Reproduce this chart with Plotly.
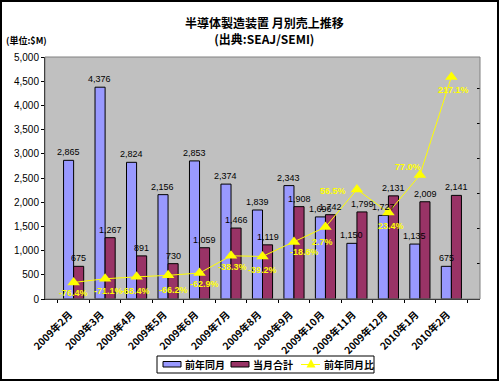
import plotly.graph_objects as go

categories = ["2009年2月", "2009年3月", "2009年4月", "2009年5月", "2009年6月", "2009年7月",
              "2009年8月", "2009年9月", "2009年10月", "2009年11月", "2009年12月",
              "2010年1月", "2010年2月"]
prev_year = [2865, 4376, 2824, 2156, 2853, 2374, 1839, 2343, 1696, 1150, 1727, 1135, 675]
this_month = [675, 1267, 891, 730, 1059, 1466, 1119, 1908, 1742, 1799, 2131, 2009, 2141]
yoy_pct = [-76.4, -71.1, -68.4, -66.2, -62.9, -38.3, -39.2, -18.6, 2.7, 56.5, 23.4, 77.0, 217.1]
y_ticks = [0, 500, 1000, 1500, 2000, 2500, 3000, 3500, 4000, 4500, 5000]
series_names = ["前年同月", "当月合計", "前年同月比"]

# label offsets (pixels) for the ratio labels: (dx, dy) with dy positive = down
label_offsets = [(0, 11), (3, 12), (-1, 14), (5, 15), (5, 11), (1, 11), (0, 14),
                 (11, 10), (-3, 15), (-24, 2), (3, 13), (-12, -8), (2, 13)]

W, H = 500, 382
ML, MR, MT, MB = 45, 20, 57, 83
PW, PH = W - ML - MR, H - MT - MB
BARGAP = 0.36
BAR_PX = PW / len(categories) * (1 - BARGAP) / 2

BLUE, MAROON, YELLOW = "#9999FF", "#993366", "#FFFF00"
FONT = "Liberation Sans, Arial, Noto Sans CJK JP, sans-serif"
CJK = "Noto Sans CJK JP, Liberation Sans, sans-serif"

fig = go.Figure()
fig.add_trace(go.Bar(
    x=categories, y=prev_year, name=series_names[0],
    marker=dict(color=BLUE, line=dict(color="#000000", width=1)),
))
fig.add_trace(go.Bar(
    x=categories, y=this_month, name=series_names[1],
    marker=dict(color=MAROON, line=dict(color="#000000", width=1)),
))
fig.add_trace(go.Scatter(
    x=categories, y=yoy_pct, name=series_names[2], yaxis="y2",
    mode="lines+markers",
    line=dict(color=YELLOW, width=1),
    marker=dict(symbol="triangle-up", size=11, color=YELLOW),
    cliponaxis=False,
))

# bar value labels (drawn above every mark)
for vals, sign in ((prev_year, -1), (this_month, 1)):
    for c, v in zip(categories, vals):
        fig.add_annotation(
            x=c, y=v, xref="x", yref="y", text=f"{v:,}", showarrow=False,
            xanchor="center", yanchor="bottom", xshift=sign * BAR_PX / 2, yshift=1,
            font=dict(size=9, color="#000000", family=FONT),
        )

for c, v, (dx, dy) in zip(categories, yoy_pct, label_offsets):
    fig.add_annotation(
        x=c, y=v, xref="x", yref="y2", text=f"{v:.1f}%", showarrow=False,
        xanchor="center", yanchor="middle",
        xshift=dx, yshift=-dy, font=dict(size=9, color=YELLOW, family=FONT, weight="bold"),
    )

def px_x(p):
    return (p - ML) / PW

def px_y(p):
    return (H - MB - p) / PH

# outer border of the picture
fig.add_shape(type="rect", xref="paper", yref="paper",
              x0=px_x(1), x1=px_x(498), y0=px_y(380), y1=px_y(1),
              line=dict(color="#000000", width=2), layer="above")
# plot area border
fig.add_shape(type="rect", xref="paper", yref="paper", x0=0, x1=1, y0=0, y1=1,
              line=dict(color="#808080", width=1), layer="above")

fig.add_annotation(xref="paper", yref="paper", x=px_x(264), y=px_y(30),
                   xanchor="center", yanchor="middle", align="center",
                   text="<b>半導体製造装置 月別売上推移<br>(出典:SEAJ/SEMI)</b>", showarrow=False,
                   font=dict(size=12, family=CJK, color="#000000"))
fig.add_annotation(xref="paper", yref="paper", x=px_x(4), y=px_y(40.5),
                   xanchor="left", yanchor="middle",
                   text="(単位:$M)", showarrow=False,
                   font=dict(size=9, family=CJK, color="#000000", weight="bold"))

# legend box
fig.add_shape(type="rect", xref="paper", yref="paper",
              x0=px_x(157), x1=px_x(374), y0=px_y(373), y1=px_y(356),
              line=dict(color="#000000", width=1), fillcolor="#FFFFFF", layer="above")
for (x0, x1), col in (((163, 181), BLUE), ((231, 249), MAROON)):
    fig.add_shape(type="rect", xref="paper", yref="paper",
                  x0=px_x(x0), x1=px_x(x1), y0=px_y(367), y1=px_y(361.5),
                  line=dict(color="#000000", width=1), fillcolor=col, layer="above")
fig.add_shape(type="line", xref="paper", yref="paper",
              x0=px_x(301), x1=px_x(320), y0=px_y(364.5), y1=px_y(364.5),
              line=dict(color=YELLOW, width=1), layer="above")
fig.add_shape(type="path", xref="paper", yref="paper",
              path=f"M {px_x(306.5)} {px_y(367.5)} L {px_x(315.5)} {px_y(367.5)} L {px_x(311)} {px_y(359)} Z",
              line=dict(color=YELLOW, width=0), fillcolor=YELLOW, layer="above")
for xl, name in zip((183, 251, 322), series_names):
    fig.add_annotation(xref="paper", yref="paper", x=px_x(xl), y=px_y(364.5),
                       xanchor="left", yanchor="middle", text=f"<b>{name}</b>",
                       showarrow=False, font=dict(size=10, family=CJK, color="#000000"))

fig.update_layout(
    width=W, height=H,
    margin=dict(l=ML, r=MR, t=MT, b=MB, pad=0, autoexpand=False),
    paper_bgcolor="#FFFFFF", plot_bgcolor="#C0C0C0",
    barmode="group", bargap=BARGAP, bargroupgap=0,
    font=dict(family=FONT, size=10, color="#000000"),
    showlegend=False,
    xaxis=dict(type="category", tickangle=-45, showgrid=False, showline=True,
               linecolor="#000000", linewidth=1, ticks="outside", ticklen=3,
               tickson="boundaries", tickcolor="#000000", automargin=False,
               ticklabelstandoff=5, ticklabelshift=-4,
               tickfont=dict(size=10, family=CJK, weight="bold")),
    yaxis=dict(range=[0, 5000], tickvals=y_ticks, tickformat=",", showgrid=False,
               showline=True, linecolor="#000000", linewidth=1, ticks="outside",
               ticklen=3, tickcolor="#000000", zeroline=False, automargin=False,
               tickfont=dict(size=10, family=FONT)),
    yaxis2=dict(overlaying="y", side="right", range=[-100, 245.6],
                tickvals=[-100, -50, 0, 50, 100, 150, 200], showticklabels=False,
                showgrid=False, zeroline=False, showline=False, ticks="inside",
                ticklen=3, tickcolor="#000000", automargin=False),
)

fig.write_html("out.html", config={"displayModeBar": False},
               post_script="document.body.style.margin='0';document.body.style.overflow='hidden';")
